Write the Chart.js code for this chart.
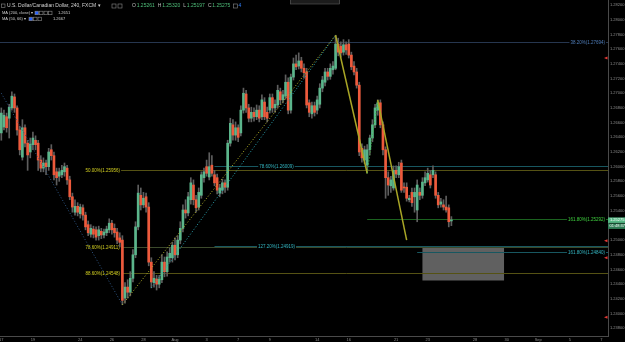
<!DOCTYPE html>
<html>
<head>
<meta charset="utf-8">
<script src="https://cdn.jsdelivr.net/npm/chart.js@4"></script>
<style>
  html, body { margin: 0; padding: 0; background: #000; }
  #wrap { width: 625px; height: 342px; }
</style>
</head>
<body>
<div id="wrap"><canvas id="fxChart" width="625" height="342"></canvas></div>
<script>
// USD/CAD 4h candles, first one is Mon Jul 17 00:00
const opens = [
  1.2646, 1.2654, 1.2668, 1.2666, 1.2680, 1.2695, 1.2680, 1.2650, 1.2613, 1.2653,
  1.2632, 1.2620, 1.2630, 1.2636, 1.2632, 1.2609, 1.2598, 1.2605, 1.2600, 1.2623,
  1.2615, 1.2593, 1.2587, 1.2589, 1.2593, 1.2598, 1.2582, 1.2559, 1.2538, 1.2546,
  1.2536, 1.2544, 1.2534, 1.2521, 1.2508, 1.2515, 1.2514, 1.2506, 1.2512, 1.2507,
  1.2510, 1.2514, 1.2523, 1.2516, 1.2511, 1.2503, 1.2500, 1.2421, 1.2436, 1.2429,
  1.2448, 1.2480, 1.2518, 1.2561, 1.2548, 1.2559, 1.2545, 1.2470, 1.2442, 1.2447,
  1.2440, 1.2446, 1.2470, 1.2457, 1.2476, 1.2476, 1.2493, 1.2480, 1.2500, 1.2516,
  1.2541, 1.2537, 1.2555, 1.2575, 1.2555, 1.2545, 1.2561, 1.2585, 1.2600, 1.2586,
  1.2602, 1.2589, 1.2585, 1.2564, 1.2568, 1.2578, 1.2572, 1.2632, 1.2657, 1.2643,
  1.2653, 1.2646, 1.2677, 1.2699, 1.2680, 1.2666, 1.2674, 1.2668, 1.2677, 1.2668,
  1.2688, 1.2674, 1.2677, 1.2694, 1.2680, 1.2684, 1.2702, 1.2691, 1.2696, 1.2715,
  1.2677, 1.2722, 1.2740, 1.2737, 1.2744, 1.2734, 1.2729, 1.2687, 1.2672, 1.2683,
  1.2677, 1.2685, 1.2707, 1.2715, 1.2729, 1.2723, 1.2732, 1.2734, 1.2767, 1.2764,
  1.2756, 1.2766, 1.2767, 1.2752, 1.2737, 1.2729, 1.2711, 1.2625, 1.2609, 1.2602,
  1.2623, 1.2639, 1.2657, 1.2677, 1.2687, 1.2657, 1.2623, 1.2585, 1.2574, 1.2571,
  1.2595, 1.2589, 1.2605, 1.2572, 1.2572, 1.2555, 1.2565, 1.2559, 1.2541, 1.2565,
  1.2561, 1.2578, 1.2582, 1.2589, 1.2589, 1.2589, 1.2561, 1.2549, 1.2548, 1.2545,
  1.2544, 1.25261
];
const highs = [
  1.2680, 1.2677, 1.2673, 1.2685, 1.2702, 1.2699, 1.2683, 1.2655, 1.2664, 1.2657,
  1.2636, 1.2639, 1.2647, 1.2642, 1.2636, 1.2615, 1.2612, 1.2609, 1.2625, 1.2630,
  1.2620, 1.2598, 1.2598, 1.2602, 1.2605, 1.2602, 1.2587, 1.2564, 1.2555, 1.2551,
  1.2549, 1.2548, 1.2538, 1.2526, 1.2521, 1.2519, 1.2518, 1.2519, 1.2516, 1.2515,
  1.2519, 1.2529, 1.2527, 1.2522, 1.2516, 1.2510, 1.2506, 1.2442, 1.2446, 1.2457,
  1.2487, 1.2525, 1.2575, 1.2571, 1.2565, 1.2564, 1.2551, 1.2476, 1.2457, 1.2452,
  1.2452, 1.2480, 1.2477, 1.2484, 1.2489, 1.2497, 1.2503, 1.2506, 1.2525, 1.2548,
  1.2555, 1.2565, 1.2585, 1.2582, 1.2561, 1.2571, 1.2593, 1.2598, 1.2609, 1.2619,
  1.2615, 1.2595, 1.2590, 1.2576, 1.2583, 1.2582, 1.2636, 1.2666, 1.2664, 1.2661,
  1.2657, 1.2683, 1.2707, 1.2704, 1.2685, 1.2681, 1.2680, 1.2684, 1.2683, 1.2698,
  1.2694, 1.2681, 1.2699, 1.2699, 1.2691, 1.2711, 1.2707, 1.2704, 1.2725, 1.2721,
  1.2726, 1.2748, 1.2752, 1.2755, 1.2749, 1.2740, 1.2734, 1.2691, 1.2688, 1.2688,
  1.2696, 1.2713, 1.2723, 1.2734, 1.2734, 1.2740, 1.2743, 1.2779, 1.2775, 1.2770,
  1.2773, 1.2770, 1.2773, 1.2756, 1.2743, 1.2734, 1.2715, 1.2631, 1.2628, 1.2630,
  1.2643, 1.2664, 1.2685, 1.2691, 1.2691, 1.2661, 1.2627, 1.2593, 1.2587, 1.2601,
  1.2601, 1.2606, 1.2609, 1.2578, 1.2578, 1.2561, 1.2571, 1.2571, 1.2582, 1.2571,
  1.2585, 1.2593, 1.2598, 1.2595, 1.2601, 1.2593, 1.2565, 1.2557, 1.2555, 1.2560,
  1.2548, 1.25320
];
const lows = [
  1.2636, 1.2650, 1.2647, 1.2639, 1.2677, 1.2674, 1.2643, 1.2616, 1.2609, 1.2627,
  1.2595, 1.2612, 1.2623, 1.2623, 1.2595, 1.2593, 1.2593, 1.2589, 1.2595, 1.2609,
  1.2582, 1.2575, 1.2580, 1.2585, 1.2587, 1.2576, 1.2555, 1.2538, 1.2534, 1.2533,
  1.2530, 1.2527, 1.2514, 1.2506, 1.2504, 1.2503, 1.2500, 1.2500, 1.2502, 1.2503,
  1.2506, 1.2510, 1.2508, 1.2504, 1.2495, 1.2491, 1.2412, 1.2414, 1.2421, 1.2424,
  1.2443, 1.2476, 1.2514, 1.2541, 1.2544, 1.2538, 1.2465, 1.2435, 1.2436, 1.2432,
  1.2435, 1.2442, 1.2450, 1.2451, 1.2470, 1.2470, 1.2473, 1.2476, 1.2495, 1.2511,
  1.2530, 1.2533, 1.2549, 1.2548, 1.2538, 1.2541, 1.2557, 1.2579, 1.2587, 1.2582,
  1.2587, 1.2574, 1.2563, 1.2559, 1.2563, 1.2565, 1.2568, 1.2628, 1.2636, 1.2636,
  1.2634, 1.2642, 1.2673, 1.2674, 1.2661, 1.2661, 1.2662, 1.2664, 1.2661, 1.2664,
  1.2664, 1.2661, 1.2673, 1.2674, 1.2674, 1.2680, 1.2685, 1.2687, 1.2692, 1.2672,
  1.2673, 1.2718, 1.2732, 1.2733, 1.2729, 1.2721, 1.2680, 1.2668, 1.2666, 1.2669,
  1.2672, 1.2680, 1.2702, 1.2710, 1.2718, 1.2719, 1.2726, 1.2732, 1.2751, 1.2749,
  1.2752, 1.2753, 1.2748, 1.2732, 1.2725, 1.2707, 1.2615, 1.2606, 1.2604, 1.2591,
  1.2616, 1.2634, 1.2653, 1.2670, 1.2653, 1.2616, 1.2557, 1.2561, 1.2565, 1.2568,
  1.2585, 1.2585, 1.2565, 1.2565, 1.2553, 1.2552, 1.2546, 1.2538, 1.2525, 1.2555,
  1.2557, 1.2574, 1.2579, 1.2571, 1.2585, 1.2557, 1.2544, 1.2545, 1.2541, 1.2538,
  1.2518, 1.25197
];
const closes = [
  1.2673, 1.2670, 1.2653, 1.2681, 1.2696, 1.2680, 1.2650, 1.2623, 1.2653, 1.2632,
  1.2616, 1.2631, 1.2639, 1.2630, 1.2609, 1.2598, 1.2605, 1.2600, 1.2620, 1.2615,
  1.2589, 1.2585, 1.2593, 1.2595, 1.2600, 1.2582, 1.2559, 1.2545, 1.2546, 1.2538,
  1.2545, 1.2534, 1.2518, 1.2510, 1.2516, 1.2508, 1.2504, 1.2514, 1.2507, 1.2511,
  1.2515, 1.2523, 1.2514, 1.2510, 1.2500, 1.2497, 1.2418, 1.2436, 1.2429, 1.2448,
  1.2480, 1.2518, 1.2564, 1.2548, 1.2557, 1.2545, 1.2470, 1.2443, 1.2448, 1.2440,
  1.2447, 1.2470, 1.2457, 1.2477, 1.2482, 1.2493, 1.2480, 1.2500, 1.2516, 1.2541,
  1.2537, 1.2559, 1.2578, 1.2555, 1.2544, 1.2565, 1.2589, 1.2593, 1.2591, 1.2600,
  1.2591, 1.2578, 1.2568, 1.2571, 1.2578, 1.2572, 1.2632, 1.2659, 1.2643, 1.2653,
  1.2640, 1.2677, 1.2700, 1.2680, 1.2666, 1.2674, 1.2668, 1.2677, 1.2666, 1.2691,
  1.2668, 1.2666, 1.2694, 1.2680, 1.2685, 1.2704, 1.2691, 1.2698, 1.2715, 1.2677,
  1.2722, 1.2740, 1.2736, 1.2744, 1.2734, 1.2728, 1.2684, 1.2674, 1.2683, 1.2674,
  1.2691, 1.2707, 1.2718, 1.2729, 1.2723, 1.2734, 1.2737, 1.2767, 1.2756, 1.2755,
  1.2766, 1.2759, 1.2752, 1.2736, 1.2729, 1.2711, 1.2620, 1.2612, 1.2623, 1.2623,
  1.2639, 1.2657, 1.2680, 1.2687, 1.2657, 1.2623, 1.2585, 1.2575, 1.2582, 1.2595,
  1.2590, 1.2600, 1.2568, 1.2571, 1.2557, 1.2557, 1.2551, 1.2565, 1.2575, 1.2561,
  1.2579, 1.2585, 1.2591, 1.2575, 1.2595, 1.2561, 1.2548, 1.2552, 1.2545, 1.2541,
  1.2525, 1.25275
];

// bottom axis: label text and trading day number (6 candles per day)
const dayLabels = ['17', '19', '24', '26', '28', 'Aug', '3', '7', '9', '14', '16', '21', '23', '28', '30', 'Sep', '5', '7'];
const dayNumbers = [0, 2, 5, 7, 9, 11, 13, 15, 17, 20, 22, 25, 27, 30, 32, 34, 36, 38];

// price axis ticks
const priceTicks = [1.238, 1.240, 1.242, 1.244, 1.246, 1.248, 1.250, 1.252, 1.254, 1.256, 1.258, 1.260,
  1.262, 1.264, 1.266, 1.268, 1.270, 1.272, 1.274, 1.276, 1.278, 1.280, 1.282];

// fib levels drawn on the chart
const fibPrices = [1.27694, 1.25956, 1.24911, 1.24548, 1.26009, 1.24919, 1.25292, 1.24840];
const fibTexts = ['38.20%(1.27694)', '50.00%(1.25956)', '78.60%(1.24911)', '88.60%(1.24548)',
  '78.60%(1.26009)', '127.20%(1.24919)', '161.80%(1.25292)', '161.80%(1.24840)'];
const fibFrom = [-1, 32, 32, 32, 81, 81, 139, 158];

// trend lines (candle index, price)
const lineFromIdx = [0, 46, 57, 127, 139, 143];
const lineFromPrice = [1.2700, 1.2412, 1.2435, 1.2779, 1.2591, 1.2691];
const lineToIdx = [46, 127, 127, 139, 143, 154];
const lineToPrice = [1.2412, 1.2779, 1.2779, 1.2591, 1.2691, 1.2500];

// target zone
const zoneFrom = 160, zoneTo = 191, zoneHigh = 1.2491, zoneLow = 1.2445;

// alerts on the price axis
const alertPrices = [1.2748, 1.2499, 1.2476, 1.2395];

// header values
const lastOHLC = ['1.25261', '1.25320', '1.25197', '1.25275'];
const maValues = ['1.2651', '1.2667'];
const lastPrice = 1.25275;
const countdown = '01:48:37';

const SLOTS = 231;
const UP = '#5bb58b';
const DOWN = '#ee5a3c';

const fibStyles = [
  { line: '#26364f', text: '#4f7db9', align: 'right' },
  { line: '#555214', text: '#d4d021', align: 'left' },
  { line: '#3c4a2c', text: '#d4d021', align: 'left' },
  { line: '#555214', text: '#d4d021', align: 'left' },
  { line: '#185760', text: '#33b6c2', align: 'center', dx: 62 },
  { line: '#185760', text: '#33b6c2', align: 'center', dx: 62 },
  { line: '#1b621f', text: '#3fd23f', align: 'right' },
  { line: '#185760', text: '#33b6c2', align: 'right' }
];
const lineStyles = [
  { color: '#2e5685', dash: [1, 2], width: 1 },
  { color: '#b9b72a', dash: [1, 2], width: 1 },
  { color: '#2aa6b3', dash: [1, 2], width: 1 },
  { color: '#a9a626', dash: [], width: 1.5 },
  { color: '#3fc53f', dash: [1, 2], width: 1 },
  { color: '#a9a626', dash: [], width: 1.5 }
];

Chart.defaults.font.family = '"Liberation Sans", Arial, sans-serif';

const overlay = {
  id: 'overlay',
  beforeDatasetsDraw(chart) {
    const { ctx, chartArea } = chart;
    const x = chart.scales.x, y = chart.scales.y;
    ctx.save();
    // zone box
    const zx1 = x.getPixelForValue(zoneFrom), zx2 = x.getPixelForValue(zoneTo);
    const zy1 = y.getPixelForValue(zoneHigh), zy2 = y.getPixelForValue(zoneLow);
    ctx.fillStyle = 'rgba(120,120,120,0.8)';
    ctx.fillRect(zx1, zy1, zx2 - zx1, zy2 - zy1);

    // fib levels with their labels
    ctx.font = '4.5px "Liberation Sans", Arial, sans-serif';
    ctx.textBaseline = 'middle';
    ctx.textAlign = 'left';
    fibPrices.forEach((p, k) => {
      const st = fibStyles[k];
      const py = Math.round(y.getPixelForValue(p)) + 0.5;
      const px = Math.max(0, x.getPixelForValue(fibFrom[k]));
      ctx.strokeStyle = st.line;
      ctx.lineWidth = 1;
      ctx.beginPath();
      ctx.moveTo(px, py);
      ctx.lineTo(chartArea.right, py);
      ctx.stroke();
      const w = ctx.measureText(fibTexts[k]).width;
      let tx = px;
      if (st.align === 'right') tx = chartArea.right - 3 - w;
      if (st.align === 'center') tx = px + st.dx - w / 2;
      ctx.fillStyle = '#000';
      ctx.fillRect(tx - 1, py - 2.5, w + 2, 5);
      ctx.fillStyle = st.text;
      ctx.fillText(fibTexts[k], tx, py);
    });
    ctx.restore();
  },
  afterDatasetsDraw(chart) {
    const { ctx } = chart;
    const x = chart.scales.x, y = chart.scales.y;
    ctx.save();
    lineFromIdx.forEach((a, k) => {
      const st = lineStyles[k];
      ctx.strokeStyle = st.color;
      ctx.lineWidth = st.width;
      ctx.setLineDash(st.dash);
      ctx.beginPath();
      ctx.moveTo(x.getPixelForValue(a), y.getPixelForValue(lineFromPrice[k]));
      ctx.lineTo(x.getPixelForValue(lineToIdx[k]), y.getPixelForValue(lineToPrice[k]));
      ctx.stroke();
    });
    ctx.restore();
  },
  afterDraw(chart) {
    const { ctx, chartArea } = chart;
    const x = chart.scales.x, y = chart.scales.y;
    ctx.save();

    // bottom axis line and day labels
    ctx.strokeStyle = '#4a4a4a';
    ctx.lineWidth = 1;
    ctx.beginPath();
    ctx.moveTo(0, chartArea.bottom + 0.5);
    ctx.lineTo(chartArea.right, chartArea.bottom + 0.5);
    ctx.stroke();
    ctx.font = '4px "Liberation Sans", Arial, sans-serif';
    ctx.fillStyle = '#8c8c8c';
    ctx.textAlign = 'center';
    ctx.textBaseline = 'middle';
    dayLabels.forEach((t, k) => {
      ctx.fillText(t, x.getPixelForValue(dayNumbers[k] * 6), chartArea.bottom + 3.5);
    });

    // alert markers
    ctx.fillStyle = '#e53935';
    alertPrices.forEach(p => {
      const py = y.getPixelForValue(p);
      ctx.beginPath();
      ctx.moveTo(chartArea.right - 4, py);
      ctx.lineTo(chartArea.right - 0.5, py - 1.5);
      ctx.lineTo(chartArea.right - 0.5, py + 1.5);
      ctx.closePath();
      ctx.fill();
    });

    // last price and countdown boxes
    const ly = y.getPixelForValue(lastPrice);
    ctx.fillStyle = '#55b784';
    ctx.fillRect(chartArea.right, ly - 2.5, 625 - chartArea.right, 5.5);
    ctx.fillStyle = '#2f7d56';
    ctx.fillRect(chartArea.right, ly + 3.5, 625 - chartArea.right, 5.5);
    ctx.font = '4px "Liberation Sans", Arial, sans-serif';
    ctx.fillStyle = '#ffffff';
    ctx.textAlign = 'left';
    ctx.fillText(lastPrice.toFixed(5), chartArea.right + 2, ly + 0.3);
    ctx.fillText(countdown, chartArea.right + 1.5, ly + 6.3);

    // header
    ctx.textAlign = 'left';
    ctx.strokeStyle = '#8a8a8a';
    ctx.lineWidth = 0.6;
    ctx.strokeRect(1.5, 4, 3.5, 3.5);
    ctx.font = '5px "Liberation Sans", Arial, sans-serif';
    ctx.fillStyle = '#d2d2d2';
    ctx.fillText('U.S. Dollar/Canadian Dollar, 240, FXCM \u25BE', 7, 6);
    ctx.strokeRect(112, 4, 4, 4);
    ctx.strokeRect(118, 4, 4, 4);
    const keys = ['O', 'H', 'L', 'C'];
    let hx = 132;
    keys.forEach((key, k) => {
      ctx.fillStyle = '#bdbdbd';
      ctx.fillText(key, hx, 6);
      const kw = ctx.measureText(key).width + 0.8;
      ctx.fillStyle = '#4fbf7a';
      ctx.fillText(lastOHLC[k], hx + kw, 6);
      hx += kw + ctx.measureText(lastOHLC[k]).width + 3;
    });
    ctx.strokeRect(hx, 4, 4, 4);
    ctx.fillStyle = '#2f7cf6';
    ctx.fillText('4', hx + 5, 6);

    ctx.font = '4px "Liberation Sans", Arial, sans-serif';
    const maNames = ['MA (200, close) \u25BE', 'MA (50, 66) \u25BE'];
    const maBoxX = [35, 29];
    const maValX = [58, 53];
    maNames.forEach((name, k) => {
      const my = 13 + k * 6;
      ctx.fillStyle = '#cfcfcf';
      ctx.fillText(name, 2, my);
      for (let b = 0; b < 4 - k; b++) {
        const bx = maBoxX[k] + b * 4.5;
        if (b === 0) {
          ctx.fillStyle = '#2962ff';
          ctx.fillRect(bx, my - 1.8, 3.5, 3.5);
        }
        ctx.strokeRect(bx, my - 1.8, 3.5, 3.5);
      }
      ctx.fillStyle = '#cfcfcf';
      ctx.fillText(maValues[k], maValX[k], my);
    });

    // small box at the top
    ctx.fillStyle = '#1c1c1c';
    ctx.fillRect(290, 0, 50, 4);
    ctx.strokeStyle = '#5a5a5a';
    ctx.strokeRect(290.5, -0.5, 49, 4.5);
    ctx.restore();
  }
};

const slots = Array.from({ length: SLOTS }, (_, i) => i);
const ctx = document.getElementById('fxChart').getContext('2d');

new Chart(ctx, {
  type: 'bar',
  data: {
    labels: slots,
    datasets: [
      {
        label: 'wicks',
        data: lows.map((l, i) => [l, highs[i]]),
        backgroundColor: '#5e5e5e',
        barThickness: 1,
        grouped: false,
        order: 2
      },
      {
        label: 'bodies',
        data: opens.map((o, i) => [o, closes[i]]),
        backgroundColor: opens.map((o, i) => (closes[i] >= o ? UP : DOWN)),
        barThickness: 2,
        minBarLength: 1,
        grouped: false,
        order: 1
      }
    ]
  },
  options: {
    responsive: false,
    animation: false,
    devicePixelRatio: 1,
    layout: { padding: { left: 0, right: 0, top: 0, bottom: 6 } },
    plugins: {
      legend: { display: false },
      tooltip: { enabled: false }
    },
    scales: {
      x: {
        display: false
      },
      y: {
        position: 'right',
        min: 1.23694,
        max: 1.2827,
        grid: { display: false, drawTicks: false },
        border: { display: true, color: '#4a4a4a' },
        afterBuildTicks: scale => {
          scale.ticks = priceTicks.map(v => ({ value: v }));
        },
        afterFit: scale => {
          scale.width = 17;
          scale.paddingTop = 0;
          scale.paddingBottom = 0;
        },
        ticks: {
          color: '#8f8f8f',
          padding: 2,
          font: { size: 4 },
          autoSkip: false,
          callback: v => v.toFixed(5)
        }
      }
    }
  },
  plugins: [overlay]
});
</script>
</body>
</html>
